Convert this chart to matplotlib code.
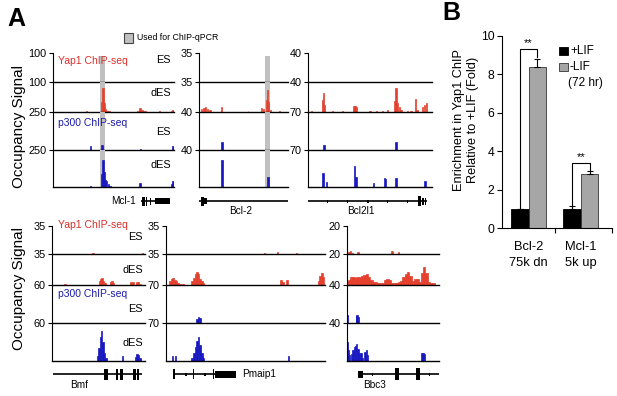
import matplotlib
matplotlib.use('Agg')
import matplotlib.pyplot as plt
from matplotlib.patches import Rectangle

plt.rcParams['font.family'] = ['Liberation Sans', 'DejaVu Sans']

W, H = 617, 396
fig = plt.figure(figsize=(W / 100, H / 100), dpi=100)

RED = '#e5402e'
BLUE = '#1818c0'
HL = '#c0c0c0'

# ------------------------------------------------------------------ data
# each peak: (position in % of window, signal height, width in %)
row_names = ['ES', 'dES', 'ES', 'dES']

mcl1_scale = [100, 100, 250, 250]
mcl1_yap_es = [(28, 1, 1), (60, 0.8, 1), (88, 0.8, 1)]
mcl1_yap_des = [(27.5, 3, 1), (40.3, 35, 1), (41.2, 80, 1.2), (42.2, 30, 1), (43.4, 10, 1.2),
                (44.8, 5, 1.5), (46.3, 2, 1.5), (70.5, 5, 1.5), (72.2, 13, 1.5), (73.8, 8, 1.5),
                (75.5, 3, 2), (88, 2, 1), (98, 4, 1.2), (99.2, 7, 1.2)]
mcl1_p300_es = [(31, 25, 1.5), (40.8, 30, 1.5), (72, 6, 1), (99, 25, 1.8)]
mcl1_p300_des = [(31, 8, 1), (40.3, 90, 1), (41.2, 182, 1.2), (42.2, 100, 1), (43.2, 47, 1),
                 (44.4, 40, 1.2), (45.7, 20, 1.2), (47, 6, 1.2), (72, 27, 2), (98, 22, 1), (99.2, 40, 1.4)]
mcl1_hl = (39.1, 43.2)

bcl2_scale = [35, 35, 40, 40]
bcl2_yap_es = [(10, 0.5, 1.2), (26, 0.6, 1.2), (50, 0.5, 1.2), (65, 0.4, 1.2), (78, 0.6, 1.2)]
bcl2_yap_des = [(3, 3, 1.5), (5.5, 4.5, 1.5), (7.5, 5.5, 1.2), (9.5, 3, 1.5), (12.5, 2, 1.5),
                (25.5, 6, 1.5), (55, 0.6, 1), (70.5, 5, 1.5), (72.5, 3, 1), (75.8, 14, 1),
                (77, 25.7, 1.2), (78.3, 12, 1), (80, 2, 1), (90, 0.8, 1)]
bcl2_p300_es = [(26, 8.6, 2)]
bcl2_p300_des = [(26, 29, 2), (77.3, 10.5, 2.2)]
bcl2_hl = (74.2, 79.8)

bcl2l1_scale = [40, 40, 70, 70]
bcl2l1_yap_es = [(25, 0.6, 1), (45, 0.6, 1), (60, 0.6, 1), (70, 0.6, 1), (85, 0.6, 1)]
bcl2l1_yap_des = [(3, 1, 1), (11.4, 16, 1), (12.2, 26, 1), (13, 10, 1), (20, 1, 1), (28, 1, 1),
                  (37, 8, 1), (38, 8.4, 1.5), (39, 7, 1), (50, 1.5, 1), (55, 1.5, 1), (60, 2, 1),
                  (64, 2.5, 1), (70, 15, 1), (71, 32, 1), (72, 12, 1), (73.5, 7, 1), (75, 3, 1),
                  (80, 1.5, 1), (83, 2, 1), (86.5, 17, 1.2), (88, 3, 1), (92.5, 7, 1.2),
                  (94, 9, 1), (95.5, 11.6, 1.2)]
bcl2l1_p300_es = [(13, 9.5, 1.5), (71, 14, 1.5)]
bcl2l1_p300_des = [(12.2, 26, 1.5), (15, 10, 1.2), (37.7, 39, 1.2), (38.8, 18, 1), (53, 8, 1.2),
                   (61.5, 17, 1.2), (62.8, 15, 1), (71, 16.5, 1.5), (94.5, 11.6, 1.8)]

bmf_scale = [35, 35, 60, 60]
bmf_yap_es = [(16, 0.5, 1), (44, 1.2, 1.5), (97, 1.2, 1.5)]
bmf_yap_des = [(14, 0.8, 2), (40, 0.5, 1), (51, 4, 1.6), (52.5, 7, 1.6), (54, 8, 1.6), (55.5, 5, 1.6),
               (57, 2, 1.6), (63, 3, 1.6), (64.5, 5, 1.6), (66, 2.5, 1.6), (85, 3, 1.6),
               (87, 3.5, 1.6), (91.5, 3, 1.6), (93, 3.5, 1.6), (95, 1.5, 1.6)]
bmf_p300_es = [(53, 0.5, 1.5)]
bmf_p300_des = [(49, 8, 1.6), (50.5, 20, 1.6), (52, 38, 1.6), (53.5, 47, 1.6), (55, 30, 1.6),
                (56.5, 12, 1.6), (58, 4, 1.6), (76, 8, 1.6), (90, 6, 1.6), (91.5, 11, 1.6),
                (93, 10, 1.6), (94.5, 5, 1.6)]

pmaip1_scale = [35, 35, 70, 70]
pmaip1_yap_es = [(62, 1.2, 1), (70, 2.3, 1), (82, 1.5, 1)]
pmaip1_yap_des = [(2.5, 4, 1.1), (3.5, 7, 1.1), (4.5, 8, 1.1), (5.5, 6, 1.1), (6.5, 4, 1.1), (7.5, 2.5, 1.1),
                  (9, 1.5, 1.1), (10.5, 1, 1.1), (16.5, 4, 1.1), (17.5, 8, 1.1), (18.5, 12, 1.1), (19.5, 15, 1.1),
                  (20.5, 12, 1.1), (21.5, 7, 1.1), (22.5, 4, 1.1), (23.5, 2, 1.1), (72.5, 6, 1.2),
                  (73.5, 3, 1), (76, 6, 1.5), (96, 5, 1.1), (97, 10, 1.1), (98, 14, 1.1), (99, 9, 1.1)]
pmaip1_p300_es = [(19.5, 8, 1.1), (20.5, 11.6, 1.1), (21.5, 9, 1.1)]
pmaip1_p300_des = [(4, 9, 1), (6, 9, 1), (16.5, 6, 1.1), (17.5, 14, 1.1), (18.5, 25, 1.1), (19.5, 37, 1.1),
                   (20.5, 45, 1.1), (21.5, 30, 1.1), (22.5, 14, 1.1), (23.5, 5, 1.1), (77, 9, 1)]

bbc3_scale = [20, 20, 40, 40]
bbc3_yap_es = [(2, 1.5, 1.5), (4, 2.4, 1.5), (6, 1, 1.5), (12, 1.4, 2), (49, 1.8, 2), (56, 1.5, 2)]
bbc3_yap_des = [(1, 2, 2.6), (2.5, 3.2, 2.6), (5, 5.4, 2.6), (7, 5.4, 2.6), (9.5, 4.2, 2.6),
                (11.5, 5.2, 2.6), (14, 5.4, 2.6), (16.5, 5.6, 2.6), (19, 6.5, 2.6), (21.5, 7.1, 2.6),
                (24, 5, 2.6), (26.5, 3.2, 2.6), (29, 2.2, 2.6), (31.5, 1.7, 2.6), (34, 1.2, 2.6),
                (36.5, 1.1, 2.6), (39, 1.5, 2.6), (41.5, 3.2, 2.6), (44, 3.9, 2.6), (46.5, 3.5, 2.6),
                (49, 1.5, 2.6), (51.5, 1.1, 2.6), (54, 1.4, 2.6), (56.5, 1.7, 2.6), (59, 2.5, 2.6),
                (61.5, 5, 2.6), (64, 7.1, 2.6), (66.5, 8.2, 2.6), (69, 6, 2.6), (71.5, 2.5, 2.6),
                (74, 3.9, 2.6), (76.5, 3.9, 2.6), (79, 2.2, 2.6), (81.5, 7.5, 2.6), (84, 11.8, 2.6),
                (86.5, 8, 2.6), (89, 1.7, 2.6), (91.5, 1.1, 2.6), (94, 1.1, 2.6)]
bbc3_p300_es = [(0.5, 8.4, 1.5), (10, 7, 1.5), (11, 8.4, 1.5), (12, 6, 1)]
bbc3_p300_des = [(0.5, 20, 1), (1.5, 12, 1), (2.5, 6, 1), (5, 7, 1.6), (6.5, 12, 1.6), (8, 15, 1.6),
                 (9.5, 16, 1.6), (10.5, 18, 1.6), (12, 13, 1.6), (13.5, 8, 1.6), (15, 8, 1.6),
                 (17, 3, 1.6), (19.5, 10, 1.6), (21, 11.5, 1.6), (22.5, 6, 1.6), (81, 8.7, 1.6),
                 (82.5, 8.7, 1.6), (84, 7, 1.6)]

# gene models: line (start, end) in %, exons (start, end, height px), intron ticks (%)
mcl1_gene = dict(name='Mcl-1', line=(72.7, 96.7), exons=[(73.6, 76.0, 9), (76.9, 78.0, 9), (80.0, 80.6, 7),
                                                          (84.3, 96.7, 6)], ticks=[], label=(68.5, 'right'))
bcl2_gene = dict(name='Bcl-2', line=(0.5, 100), exons=[(2.5, 5.5, 9), (5.5, 9.0, 6)],
                 ticks=[22.5, 48.3, 75.3], label=(47, 'center'))
bcl2l1_gene = dict(name='Bcl2l1', line=(0, 96), exons=[(88.5, 91.5, 10), (92.3, 93.2, 7), (94.2, 95.0, 7)],
                   ticks=[16, 32, 48.4, 64, 80], label=(42.7, 'center'))
bmf_gene = dict(name='Bmf', line=(1, 97), exons=[(56, 60, 11), (69, 71, 11), (73, 76, 11), (87, 90, 11),
                                                 (91.4, 93.5, 11)], ticks=[6.5, 35.5], label=(29, 'center'))
pmaip1_gene = dict(name='Pmaip1', line=(5, 31), exons=[(4.6, 5.4, 10), (17.1, 17.9, 10), (29.6, 30.4, 10),
                                                      (30.6, 43.8, 7)], ticks=[12.5, 24.4], label=(48, 'left'))
bbc3_gene = dict(name='Bbc3', line=(12, 100), exons=[(12, 17.4, 7), (52, 56.5, 12), (75, 79.3, 12)],
                 ticks=[28, 67.4, 90], label=(30, 'center'))

# panel B
b_categories = ['Bcl-2\n75k dn', 'Mcl-1\n5k up']
b_plus_lif = [1.0, 1.0]
b_plus_err = [0.0, 0.15]
b_minus_lif = [8.4, 2.8]
b_minus_err = [0.38, 0.17]
b_yticks = [0, 2, 4, 6, 8, 10]


# ------------------------------------------------------------------ helpers
def px_axes(x0, y0, x1, y1):
    return fig.add_axes([x0 / W, 1 - y1 / H, (x1 - x0) / W, (y1 - y0) / H])


def ftext(x, y, s, **kw):
    return fig.text(x / W, 1 - y / H, s, **kw)


def draw_panel(x0, x1, rows, tracks, scales, hl=None):
    for i in range(4):
        ax = px_axes(x0, rows[i], x1, rows[i + 1])
        col = RED if i < 2 else BLUE
        trk = tracks[i]
        ax.bar([p for p, h, w in trk], [h for p, h, w in trk], width=[w for p, h, w in trk],
               color=col, edgecolor=col, linewidth=0.5, zorder=2)
        ax.set_xlim(0, 100)
        ax.set_ylim(0, scales[i])
        if hl is not None:
            top = 1.0 if i > 0 else (rows[1] - 56) / (rows[1] - rows[0])
            ax.axvspan(hl[0], hl[1], ymin=0, ymax=top, color=HL, lw=0, zorder=1)
        for s in ['top', 'right']:
            ax.spines[s].set_visible(False)
        ax.spines['left'].set_linewidth(0.8)
        ax.spines['bottom'].set_linewidth(1.0)
        ax.spines['bottom'].set_zorder(3)
        ax.set_xticks([])
        ax.set_yticks([scales[i]])
        ax.set_yticklabels([str(scales[i])])
        ax.tick_params(axis='y', length=3, width=0.8, pad=1.5, labelsize=7.8)
        ax.patch.set_alpha(0)


def draw_gene(x0, x1, yc, g):
    ax = px_axes(x0, yc - 8, x1, yc + 8)
    ax.set_xlim(0, 100)
    ax.set_ylim(-8, 8)
    ax.axis('off')
    ax.plot(g['line'], [0, 0], color='black', lw=1.2, solid_capstyle='butt')
    for a, b, h in g['exons']:
        ax.bar((a + b) / 2, h, width=b - a, bottom=-h / 2, color='black', lw=0)
    for t in g['ticks']:
        ax.bar(t, 3, width=0.9, bottom=-1.5, color='black', lw=0)
    lx, ha = g['label']
    if ha == 'center':
        ax.text(lx, -10.5, g['name'], ha='center', va='center', fontsize=7.2, clip_on=False)
    else:
        ax.text(lx, 0, g['name'], ha=ha, va='center', fontsize=7.2, clip_on=False)


# ------------------------------------------------------------------ panel A
top_rows = [53, 82, 112, 150, 187]
bot_rows = [226, 254, 285, 323, 361]

draw_panel(53, 174, top_rows, [mcl1_yap_es, mcl1_yap_des, mcl1_p300_es, mcl1_p300_des], mcl1_scale, mcl1_hl)
draw_panel(199, 288, top_rows, [bcl2_yap_es, bcl2_yap_des, bcl2_p300_es, bcl2_p300_des], bcl2_scale, bcl2_hl)
draw_panel(308, 432, top_rows, [bcl2l1_yap_es, bcl2l1_yap_des, bcl2l1_p300_es, bcl2l1_p300_des], bcl2l1_scale)

draw_panel(52, 145, bot_rows, [bmf_yap_es, bmf_yap_des, bmf_p300_es, bmf_p300_des], bmf_scale)
draw_panel(166, 325, bot_rows, [pmaip1_yap_es, pmaip1_yap_des, pmaip1_p300_es, pmaip1_p300_des], pmaip1_scale)
draw_panel(347, 439, bot_rows, [bbc3_yap_es, bbc3_yap_des, bbc3_p300_es, bbc3_p300_des], bbc3_scale)

draw_gene(53, 174, 201, mcl1_gene)
draw_gene(199, 288, 201, bcl2_gene)
draw_gene(308, 432, 201, bcl2l1_gene)
draw_gene(52, 145, 374, bmf_gene)
draw_gene(166, 325, 374, pmaip1_gene)
draw_gene(347, 439, 374, bbc3_gene)

# row labels
for (xr, ys) in [(171, [60, 93, 132, 165]), (143, [237, 270, 309, 343])]:
    for name, y in zip(row_names, ys):
        ftext(xr, y, name, ha='right', va='center', fontsize=7.8)

ftext(58, 61, 'Yap1 ChIP-seq', color='#d8302a', fontsize=7.5, va='center')
ftext(58, 123, 'p300 ChIP-seq', color='#1a1aa8', fontsize=7.5, va='center')
ftext(58, 225, 'Yap1 ChIP-seq', color='#d8302a', fontsize=7.5, va='center')
ftext(58, 294, 'p300 ChIP-seq', color='#1a1aa8', fontsize=7.5, va='center')

ftext(19, 127, 'Occupancy Signal', rotation=90, ha='center', va='center', fontsize=11)
ftext(19, 289, 'Occupancy Signal', rotation=90, ha='center', va='center', fontsize=11)

ftext(16, 19, 'A', ha='center', va='center', fontsize=18, fontweight='bold')
ftext(451, 13, 'B', ha='center', va='center', fontsize=18, fontweight='bold')

# highlight legend
fig.add_artist(Rectangle((124 / W, 1 - 43 / H), 9 / W, 10 / H, transform=fig.transFigure,
                         facecolor=HL, edgecolor='#444444', lw=0.8))
ftext(137, 38, 'Used for ChIP-qPCR', fontsize=6.3, va='center')

# ------------------------------------------------------------------ panel B
axb = px_axes(502, 36, 612, 228)
xs = [0, 1]
off, bw = 0.17, 0.34
axb.bar([x - off for x in xs], b_plus_lif, width=bw, color='black', edgecolor='black', lw=0.6,
        yerr=[[0, 0], b_plus_err], capsize=2.5, error_kw=dict(lw=0.8, capthick=0.8, ecolor='black'),
        label='+LIF', zorder=2)
axb.bar([x + off for x in xs], b_minus_lif, width=bw, color='#a6a6a6', edgecolor='#333333', lw=0.6,
        yerr=[[0, 0], b_minus_err], capsize=2.5, error_kw=dict(lw=0.8, capthick=0.8, ecolor='black'),
        label='-LIF', zorder=2)
# significance brackets
axb.plot([-off, -off, off, off], [1.05, 9.3, 9.3, b_minus_lif[0] + b_minus_err[0] + 0.15], color='black', lw=0.8)
axb.text(0, 9.35, '**', ha='center', va='bottom', fontsize=8)
axb.plot([1 - off, 1 - off, 1 + off, 1 + off], [b_plus_lif[1] + b_plus_err[1] + 0.05, 3.4, 3.4,
         b_minus_lif[1] + b_minus_err[1] + 0.05], color='black', lw=0.8)
axb.text(1, 3.45, '**', ha='center', va='bottom', fontsize=8)

axb.set_xlim(-0.51, 1.6)
axb.set_ylim(0, 10)
axb.set_yticks(b_yticks)
axb.set_yticklabels([str(v) for v in b_yticks])
axb.set_xticks(xs)
axb.set_xticklabels(b_categories)
axb.set_xticks([0.5, 1.6], minor=True)
axb.tick_params(axis='x', which='major', length=0, pad=9, labelsize=9.3)
axb.tick_params(axis='x', which='minor', length=3.5, width=0.8)
axb.tick_params(axis='y', length=3.5, width=0.8, pad=2, labelsize=8.8)
for lab in axb.get_xticklabels():
    lab.set_linespacing(1.45)
for s in ['top', 'right']:
    axb.spines[s].set_visible(False)
for s in ['left', 'bottom']:
    axb.spines[s].set_linewidth(0.8)

# legend
fig.add_artist(Rectangle((559 / W, 1 - 55 / H), 9 / W, 8 / H, transform=fig.transFigure,
                         facecolor='black', edgecolor='black', lw=0.6))
fig.add_artist(Rectangle((559 / W, 1 - 71 / H), 9 / W, 8 / H, transform=fig.transFigure,
                         facecolor='#a6a6a6', edgecolor='#333333', lw=0.6))
ftext(570, 51, '+LIF', fontsize=8.5, va='center')
ftext(570, 67, '-LIF', fontsize=8.5, va='center')
ftext(568, 83, '(72 hr)', fontsize=8.5, va='center')

ftext(466, 120, 'Enrichment in Yap1 ChIP\nRelative to +LIF (Fold)', rotation=90, ha='center',
      va='center', fontsize=9.2, linespacing=1.15)

fig.savefig('out.png', dpi=100)
